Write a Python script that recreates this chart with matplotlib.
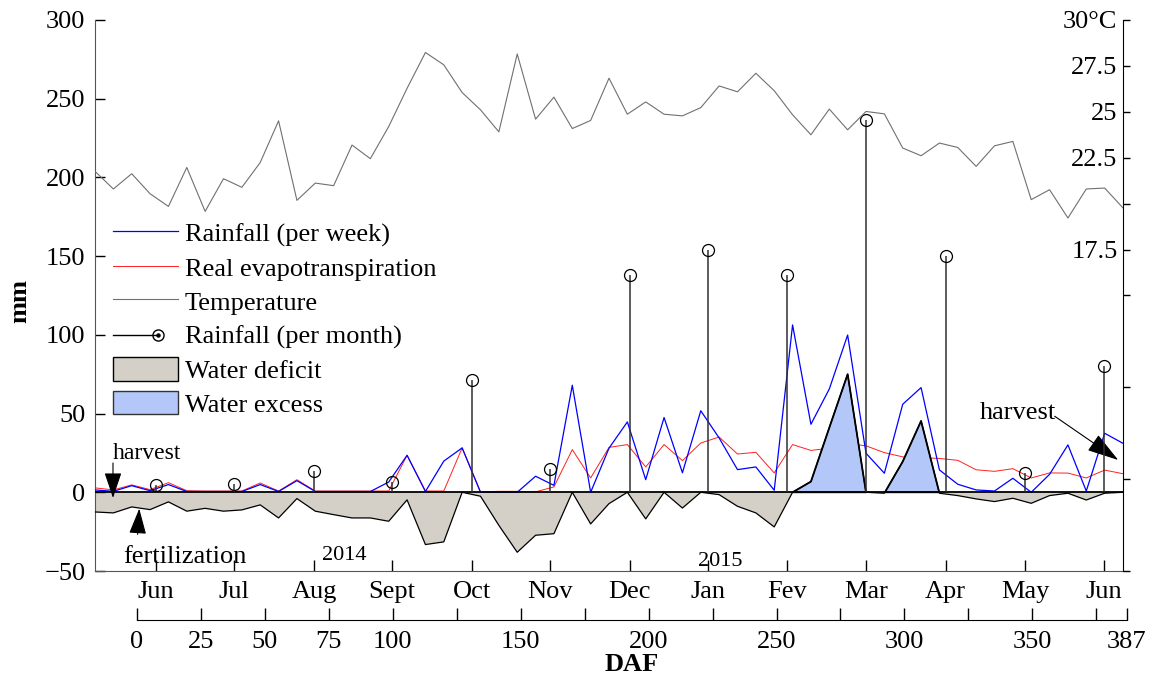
import matplotlib.pyplot as plt
import numpy as np
from matplotlib.lines import Line2D
from matplotlib.patches import Patch
from matplotlib.legend_handler import HandlerBase

plt.rcParams['font.family'] = ['Liberation Serif', 'DejaVu Serif']
plt.rcParams['font.size'] = 19

# Weekly series, one value per week starting at the 2014 harvest week.
rain_week = [1.5, 0.6, 4.2, 1.0, 4.9, 0.5, 0.5, 0.5, 0.5, 4.9,
             0.5, 7.4, 0.5, 0.5, 0.5, 0.5, 6.5, 23.5, 0.5, 19.8,
             28.2, 0.0, 0.0, 0.0, 10.2, 4.4, 68.0, 0.0, 28.0, 44.7,
             8.0, 47.5, 12.4, 51.8, 34.5, 14.4, 16.1, 1.3, 106.3, 43.2,
             65.6, 99.9, 24.8, 12.1, 55.9, 66.5, 14.2, 5.1, 1.5, 0.8,
             8.9, 0.0, 11.4, 30.1, 0.8, 37.5, 31.1]
real_et = [2.8, 1.5, 4.7, 1.7, 6.1, 1.0, 0.8, 0.8, 0.8, 5.9,
           0.8, 8.0, 0.8, 0.8, 0.8, 0.8, 0.8, 23.5, 0.8, 0.8,
           28.2, 0.3, 0.6, 0.6, 0.3, 3.4, 27.1, 9.1, 28.5, 30.3,
           16.1, 30.3, 20.1, 31.3, 35.1, 24.3, 25.4, 12.3, 30.3, 26.6,
           28.0, 31.0, 29.5, 25.2, 22.5, 22.0, 21.5, 20.3, 14.3, 13.3,
           15.0, 9.1, 12.3, 12.2, 9.1, 14.1, 11.8]
water_balance = [-12.5, -13.1, -9.3, -11.0, -6.1, -12.0, -10.2, -12.0, -11.2, -8.0,
                 -16.3, -4.0, -12.0, -14.2, -16.3, -16.3, -18.4, -4.8, -33.2, -31.5,
                 0.0, -2.5, -21.0, -38.1, -27.3, -26.3, 0.0, -20.1, -7.2, 0.0,
                 -16.9, 0.0, -10.0, 0.0, -1.5, -8.9, -13.1, -22.0, 0.0, 6.8,
                 41.0, 75.0, 0.0, -0.6, 19.5, 45.3, -0.6, -2.1, -4.2, -5.9,
                 -3.8, -7.0, -2.1, -0.6, -4.9, -0.6, 0.0]
temperature = [21.76, 20.80, 21.63, 20.54, 19.85, 21.97, 19.58, 21.36, 20.89, 22.24,
               24.51, 20.18, 21.12, 20.98, 23.19, 22.45, 24.20, 26.28, 28.23, 27.56,
               26.05, 25.11, 23.91, 28.15, 24.60, 25.80, 24.09, 24.53, 26.83, 24.87,
               25.54, 24.87, 24.78, 25.23, 26.41, 26.09, 27.10, 26.15, 24.84, 23.75,
               25.15, 24.02, 25.02, 24.89, 23.03, 22.61, 23.30, 23.06, 22.03, 23.15,
               23.39, 20.22, 20.76, 19.22, 20.80, 20.85, 19.77]

# Monthly rainfall, placed at the start of each month (in weeks)
months = ["Jun", "Jul", "Aug", "Sept", "Oct", "Nov", "Dec",
          "Jan", "Fev", "Mar", "Apr", "May", "Jun"]
month_pos = [3.3, 7.57, 11.93, 16.17, 20.52, 24.79, 29.12,
             33.41, 37.71, 42.0, 46.34, 50.66, 54.97]
rain_month = [4.6, 5.5, 13.5, 6.5, 71.1, 14.6, 137.9,
              153.7, 137.9, 236.2, 150.0, 12.5, 80.2]

mm_ticks = [-50, 0, 50, 100, 150, 200, 250, 300]
temp_ticks = [0, 5, 10, 15, 17.5, 20, 22.5, 25, 27.5, 30]
temp_labels = ["", "", "", "", "17.5", "", "22.5", "25", "27.5", "30°C"]
daf_ticks = [0, 25, 50, 75, 100, 125, 150, 175, 200, 225, 250, 275,
             300, 325, 350, 375, 387]
daf_labels = ["0", "25", "50", "75", "100", "", "150", "", "200", "",
              "250", "", "300", "", "350", "", "387"]

DEFICIT = "#d4d0c8"
EXCESS = "#b3c7f8"


class StemHandler(HandlerBase):
    """Legend key for the monthly stems: line ending in a dotted circle."""

    def create_artists(self, legend, orig_handle, xdescent, ydescent,
                       width, height, fontsize, trans):
        y = -ydescent + height / 2
        x0 = -xdescent
        x1 = x0 + width * 0.69
        line = Line2D([x0, x1], [y, y], color="black", lw=1.0, transform=trans)
        ring = Line2D([x1], [y], marker="o", ms=8, mfc="none", mec="black",
                      mew=1.0, transform=trans)
        dot = Line2D([x1], [y], marker="o", ms=2.2, mfc="black", mec="black",
                     transform=trans)
        return [line, ring, dot]


W, H = 1153, 674
fig = plt.figure(figsize=(W / 100, H / 100), dpi=100)
ax = fig.add_axes([95 / W, (H - 571) / H, 1028 / W, 551 / H])

weeks = np.arange(len(rain_week))
bal = np.array(water_balance)

ax.fill_between(weeks, bal, 0, where=bal <= 0, interpolate=True,
                facecolor=DEFICIT, edgecolor="none", zorder=1)
ax.plot(weeks, real_et, color="#ff2020", lw=0.7, zorder=2)
ax.fill_between(weeks, bal, 0, where=bal >= 0, interpolate=True,
                facecolor=EXCESS, edgecolor="black", lw=1.3, zorder=2.5)
ax.plot(weeks, bal, color="black", lw=0.9, zorder=2.6)
ax.plot(weeks, rain_week, color="#0000ff", lw=0.9, zorder=3)
ax.axhline(0, color="black", lw=1.3, zorder=3.5)

ax.vlines(month_pos, 0, rain_month, color="#303030", lw=1.1, zorder=4)
ax.plot(month_pos, rain_month, "o", ms=8.6, mfc="none", mec="black",
        mew=0.9, zorder=5)

ax.set_xlim(0, 56)
ax.set_ylim(-50, 300)
ax.set_yticks(mm_ticks)
ax.set_xticks(month_pos, months)
ax.tick_params(axis="x", direction="in", length=8, width=1, pad=7.5)
ax.tick_params(axis="y", direction="in", length=7, width=1, pad=7)
ax.spines["top"].set_visible(False)
ax.spines["right"].set_visible(False)
ax.spines["left"].set_color("#555555")
ax.spines["bottom"].set_color("#555555")
ax.set_ylabel("mm", fontweight="bold")
ax.yaxis.set_label_coords(-0.062, 0.49)

# temperature on its own scale, labels kept inside the right edge
ax2 = ax.twinx()
ax2.plot(weeks, temperature, color="#707070", lw=0.8)
ax2.set_ylim(0, 30)
for side in ["top", "bottom", "right"]:
    ax2.spines[side].set_visible(False)
ax2.spines["left"].set_visible(True)
ax2.spines["left"].set_position(("axes", 1.0))
ax2.spines["left"].set_color("black")
ax2.yaxis.set_ticks_position("left")
ax2.set_yticks(temp_ticks, temp_labels)
ax2.tick_params(axis="y", direction="in", length=5, width=1, pad=4)

# annotations
arrow = dict(arrowstyle="-|>,head_length=0.8,head_width=0.27", color="black",
             lw=0.8, shrinkA=0, shrinkB=0, mutation_scale=20)
ax.text(0.98, 21.2, "harvest", fontsize=17, ha="left", va="baseline")
ax.annotate("", xy=(0.98, -3.6), xytext=(0.98, 18.6), arrowprops=arrow)
ax.text(1.53, -44.9, "fertilization", fontsize=19, ha="left", va="baseline")
ax.annotate("", xy=(2.41, -10.4), xytext=(2.32, -26.7), arrowprops=arrow)
ax.text(12.35, -43.2, "2014", fontsize=16, ha="left", va="baseline")
ax.text(32.86, -46.8, "2015", fontsize=16, ha="left", va="baseline")
ax.text(48.21, 46.4, "harvest", fontsize=19, ha="left", va="baseline")
big_arrow = dict(arrow, arrowstyle="-|>,head_length=1.0,head_width=0.3")
ax.annotate("", xy=(55.74, 20.5), xytext=(52.28, 48.3), arrowprops=big_arrow)

stem_key = Line2D([], [])
handles = [
    Line2D([], [], color="#0000ff", lw=0.9),
    Line2D([], [], color="#ff2020", lw=0.7),
    Line2D([], [], color="#707070", lw=0.8),
    stem_key,
    Patch(facecolor=DEFICIT, edgecolor="black", lw=1.0),
    Patch(facecolor=EXCESS, edgecolor="#333333", lw=1.0),
]
labels = ["Rainfall (per week)", "Real evapotranspiration", "Temperature",
          "Rainfall (per month)", "Water deficit", "Water excess"]
leg = ax2.legend(handles, labels, loc="upper left", frameon=False,
                 bbox_to_anchor=(113 / W, (H - 221) / H),
                 bbox_transform=fig.transFigure, borderpad=0, borderaxespad=0,
                 handlelength=2.45, handleheight=1.0, handletextpad=0.27,
                 labelspacing=0.3, handler_map={stem_key: StemHandler()})

# days-after-flowering scale under the month axis
axd = fig.add_axes([137 / W, (H - 620) / H, 990 / W, 0.001])
axd.patch.set_visible(False)
for side in ["top", "left", "right"]:
    axd.spines[side].set_visible(False)
axd.set_yticks([])
axd.set_xlim(0, 387)
axd.set_xticks(daf_ticks, daf_labels)
axd.tick_params(axis="x", direction="in", length=9, width=1, pad=8)
axd.set_xlabel("DAF", fontweight="bold", labelpad=0)

fig.savefig("out.png", dpi=100)
